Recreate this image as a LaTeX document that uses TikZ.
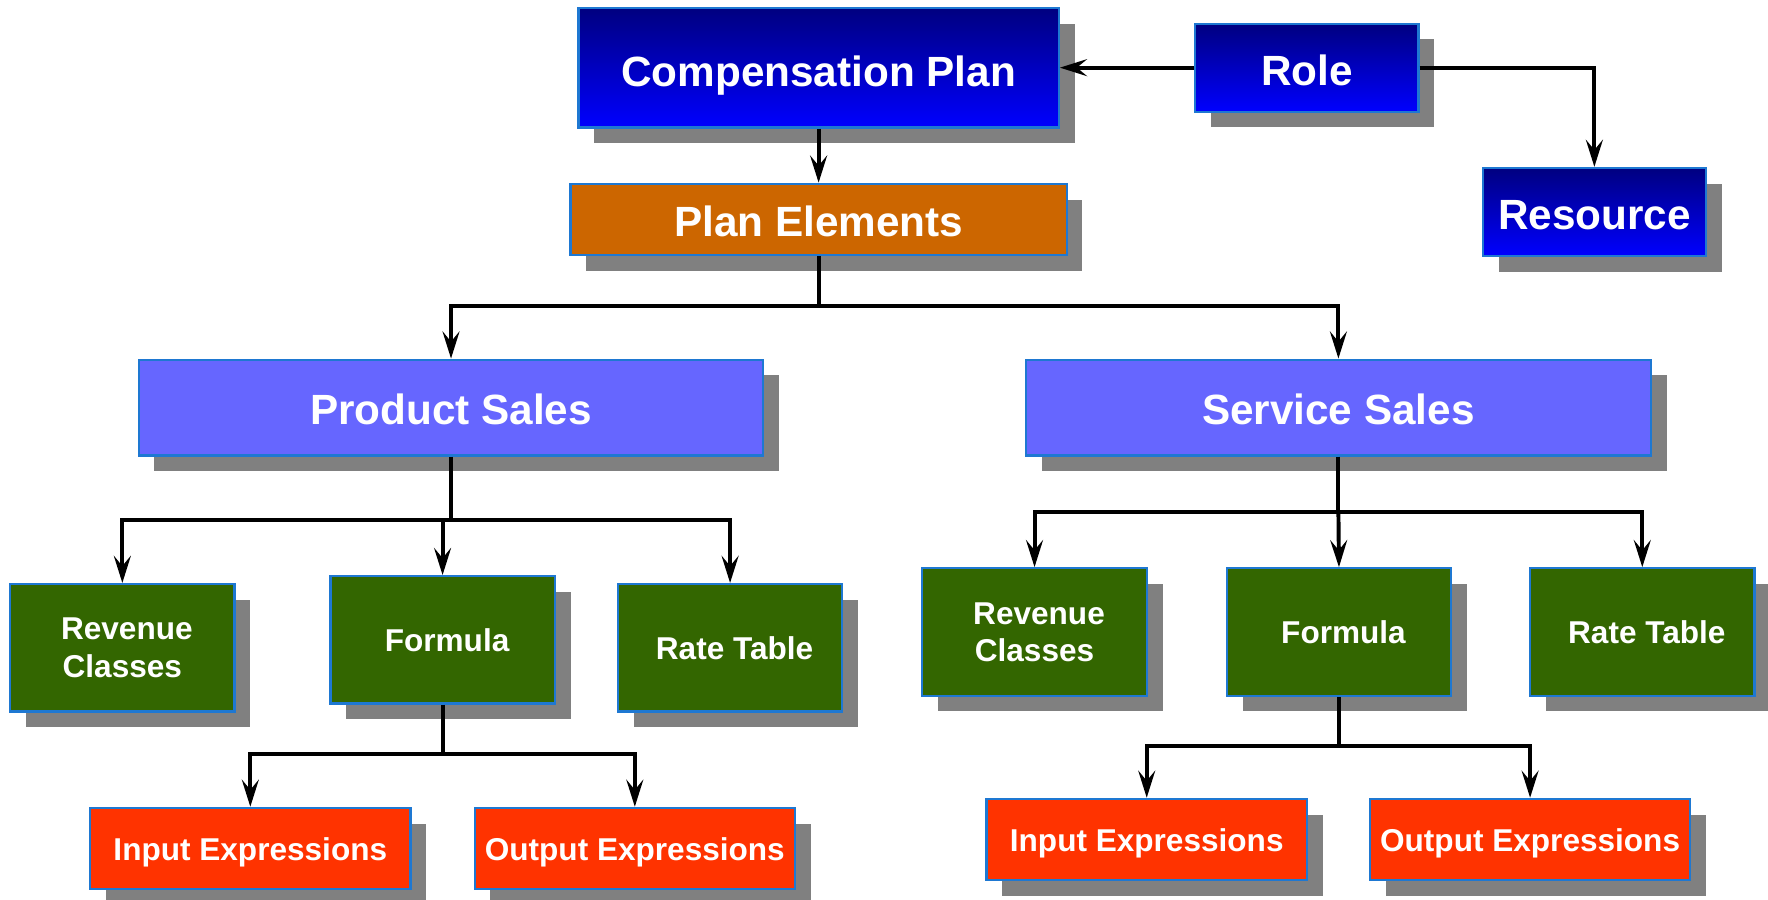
\documentclass[tikz,border=0pt]{standalone}
\usepackage{fontspec}
\setmainfont{Liberation Sans}
\usetikzlibrary{arrows.meta,shadows}
\definecolor{navyc}{HTML}{000080}
\definecolor{bluec}{HTML}{0000FF}
\definecolor{edgec}{HTML}{1E78D2}
\definecolor{orangec}{HTML}{CC6600}
\definecolor{lilac}{HTML}{6666FF}
\definecolor{greenc}{HTML}{336600}
\definecolor{redc}{HTML}{FF3300}
\definecolor{shadowc}{HTML}{808080}
\tikzset{
  box/.style={rectangle, draw=edgec, line width=1pt, inner sep=0pt, text=white, align=center,
    drop shadow={shadow xshift=7pt, shadow yshift=-7pt, fill=shadowc, opacity=1}},
  bigbox/.style={box, font=\fontsize{18.75}{22}\selectfont\bfseries, text height=15.4pt, text depth=0pt},
  smallbox/.style={box, font=\fontsize{14}{16.5}\selectfont\bfseries},
  navybox/.style={bigbox, top color=navyc, bottom color=bluec},
  orangebox/.style={bigbox, fill=orangec},
  lilacbox/.style={bigbox, fill=lilac},
  greenbox/.style={smallbox, fill=greenc, minimum width=99.5pt, minimum height=56.5pt},
  redbox/.style={smallbox, fill=redc, minimum width=142pt, minimum height=36pt, text height=11pt, text depth=0pt},
  conn/.style={line width=1.75pt, draw=black},
  arr/.style={conn, -{Stealth[length=12pt, width=7.5pt, inset=4.5pt]}}
}
\begin{document}
\begin{tikzpicture}[x=0.5pt, y=-0.5pt]
\useasboundingbox (0,0) rectangle (1568,798);
% top row
\node[navybox, minimum width=213pt, minimum height=53pt, text height=16.9pt] (comp) at (726,60) {Compensation Plan};
\node[navybox, minimum width=99pt, minimum height=39pt] (role) at (1159,60) {Role};
\node[navybox, minimum width=99pt, minimum height=39pt] (res) at (1414,188) {Resource};
\node[orangebox, minimum width=220pt, minimum height=31.5pt] (pe) at (726,194.5) {Plan Elements};
\node[lilacbox, minimum width=277pt, minimum height=42.5pt] (ps) at (400,361.5) {Product Sales};
\node[lilacbox, minimum width=277pt, minimum height=42.5pt] (ss) at (1187,361.5) {Service Sales};
% green rows
\node[greenbox] (rc1) at (108.5,574.5) {\hspace*{4pt}Revenue\\Classes};
\node[greenbox] (f1) at (392.5,567.5) {\hspace*{4pt}Formula};
\node[greenbox] (rt1) at (647.5,574.5) {\hspace*{4pt}Rate Table};
\node[greenbox] (rc2) at (917.5,560.5) {\hspace*{4pt}Revenue\\Classes};
\node[greenbox] (f2) at (1187.5,560.5) {\hspace*{4pt}Formula};
\node[greenbox] (rt2) at (1456.5,560.5) {\hspace*{4pt}Rate Table};
% red rows
\node[redbox] (in1) at (222,752.5) {Input Expressions};
\node[redbox] (out1) at (563,752.5) {Output Expressions};
\node[redbox] (in2) at (1017,744.5) {Input Expressions};
\node[redbox] (out2) at (1357,744.5) {Output Expressions};
% junctions
\coordinate (j1) at (726,271);
\coordinate (j2) at (400,461);
\coordinate (j3) at (392.5,669);
\coordinate (j4) at (1187,454);
\coordinate (j5) at (1187.5,662);
% connectors
\draw[arr] (role.west) -- (comp.east);
\draw[arr] (role.east) -| (res.north);
\draw[arr] (comp.south) -- (pe.north);
\draw[conn] (pe.south) -- (j1);
\draw[arr] (j1) -| (ps.north);
\draw[arr] (j1) -| (ss.north);
\draw[conn] (ps.south) -- (j2);
\draw[arr] (j2) -| (rc1.north);
\draw[arr] (j2) -| (f1.north);
\draw[arr] (j2) -| (rt1.north);
\draw[conn] (f1.south) -- (j3);
\draw[arr] (j3) -| (in1.north);
\draw[arr] (j3) -| (out1.north);
\draw[conn] (ss.south) -- (j4);
\draw[arr] (j4) -| (rc2.north);
\draw[arr] (j4) -- (f2.north);
\draw[arr] (j4) -| (rt2.north);
\draw[conn] (f2.south) -- (j5);
\draw[arr] (j5) -| (in2.north);
\draw[arr] (j5) -| (out2.north);
\end{tikzpicture}
\end{document}
